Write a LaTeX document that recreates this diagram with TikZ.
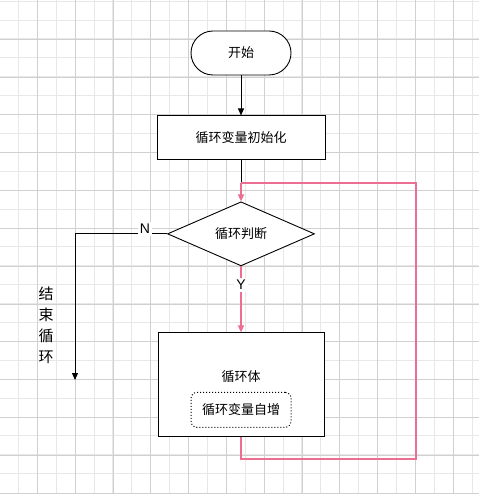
\documentclass[tikz,border=0pt]{standalone}
\usepackage{fontspec}
\newfontfamily\cjk{Noto Sans CJK SC}
\setsansfont{Liberation Sans}
\usepackage{tikz}
\usetikzlibrary{positioning, arrows.meta, shapes.geometric, calc}
\definecolor{lpink}{HTML}{EC6F92}
\definecolor{lgridlight}{HTML}{E8E8E8}
\definecolor{lgriddark}{HTML}{D0D0D0}

\begin{document}
\begin{tikzpicture}[
  x=1pt, y=-1pt,
  every node/.style={font=\fontsize{13}{15}\selectfont\cjk},
  proc/.style={rectangle, draw=black, fill=white, line width=0.9pt,
    minimum width=168pt, minimum height=44pt, inner sep=0pt},
  term/.style={rectangle, rounded corners=22pt, draw=black, fill=white,
    line width=0.9pt, minimum width=100pt, minimum height=44pt},
  decide/.style={diamond, draw=black, fill=white, line width=0.9pt,
    minimum width=147pt, minimum height=57pt, inner sep=0pt},
  sub/.style={rectangle, rounded corners=6pt, draw=black, dotted,
    line width=1pt, minimum width=100pt, minimum height=35pt},
  lbl/.style={fill=white, inner sep=2pt, font=\fontsize{14}{16}\selectfont\sffamily},
  arr/.style={-{Triangle[length=7pt, width=6pt]}, line width=0.9pt},
  loop/.style={draw=lpink, line width=1.8pt},
]
\useasboundingbox (0,0) rectangle (479,494);
\fill[white] (0,0) rectangle (479,494);

% grid
\foreach \k in {0,...,25} {
  \draw[lgridlight, line width=0.8pt] ({18.3+18.9*\k},0) -- ({18.3+18.9*\k},494);
  \draw[lgridlight, line width=0.8pt] (0,{1.1+18.9*\k}) -- (479,{1.1+18.9*\k});
}
\foreach \k in {0,...,12} {
  \draw[lgriddark, line width=0.8pt] ({37.3+37.8*\k},0) -- ({37.3+37.8*\k},494);
  \draw[lgriddark, line width=0.8pt] (0,{39.3+37.8*\k}) -- (479,{39.3+37.8*\k});
}

% nodes
\node[term] (start) at (241,53) {开始};
\node[proc, below=40pt of start] (init) {循环变量初始化};
\node[decide, below=41pt of init] (cond) {循环判断};
\node[proc, minimum height=104pt, minimum width=166pt, below=66pt of cond] (body) {};
\node[anchor=center] (bodytxt) at ($(body.north)+(0,44)$) {循环体};
\node[sub] (incr) at ($(body.north)+(0,77.5)$) {循环变量自增};
\node[align=center, font=\fontsize{15}{21}\selectfont\cjk] (exittxt) at (46,325) {结\\束\\循\\环};

% helper points
\coordinate (join) at (241,183);
\coordinate (exitend) at (75,380);

% black arrows
\draw[arr] (start) -- (init);
\draw[line width=0.9pt] (init) -- (join);
\draw[arr] (cond.west) -| (exitend);
\node[lbl] (nlbl) at (145,229) {N};

% loop (pink)
\draw[loop, -{Triangle[length=7pt, width=6pt]}] (cond.south) -- (body.north);
\node[lbl] (ylbl) at (241,285) {Y};
\draw[loop] (body.south) |- (416,459) |- (join);
\draw[loop, -{Triangle[length=7pt, width=6pt]}] (join) -- (cond.north);
\end{tikzpicture}
\end{document}
